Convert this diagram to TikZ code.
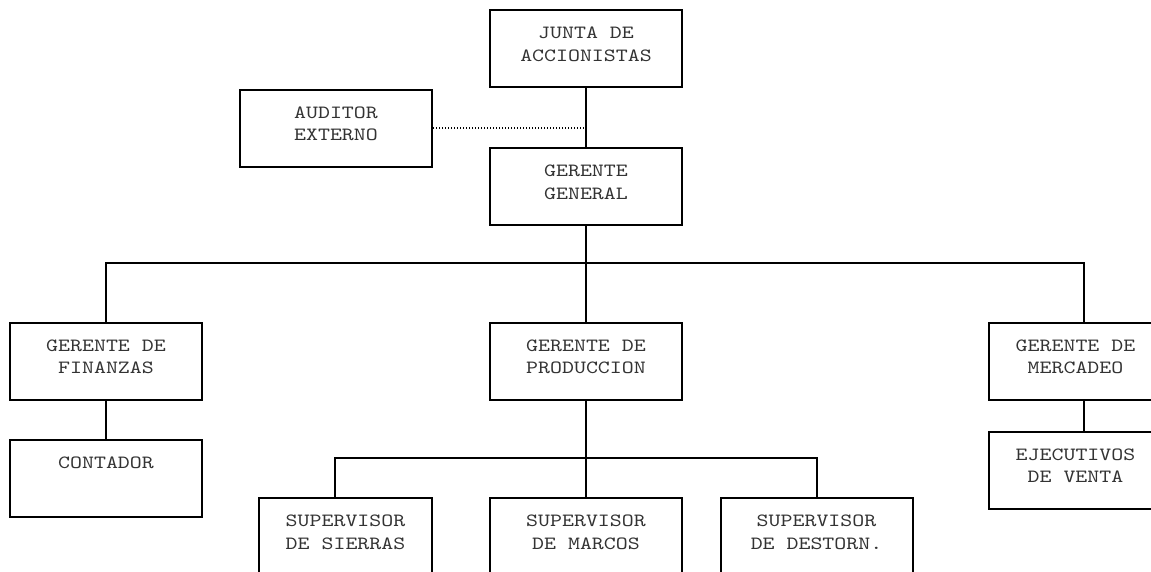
\documentclass[tikz,border=0pt]{standalone}
\usepackage{fontspec}
\newfontfamily\orgfont{lmmono10-regular.otf}[FakeStretch=1.22]
\usetikzlibrary{calc}
\begin{document}
\begin{tikzpicture}[x=0.75pt,y=-0.75pt,
  box/.style={draw, line width=1.5pt, minimum height=57.75pt, inner sep=0pt},
  wide/.style={box, minimum width=144pt},
  narrow/.style={box, minimum width=129.75pt},
  txt/.style={anchor=north, inner sep=0pt, align=center,
    font=\orgfont\fontsize{14}{16.9}\selectfont, text=black!80, yshift=-13.5pt},
  conn/.style={line width=1.5pt},
  aux/.style={line width=1pt, dash pattern=on 1pt off 1.25pt}]
\useasboundingbox (0,0) rectangle (1151,571);
\fill[white] (0,0) rectangle (1151,571);
\clip (0,0) rectangle (1151,571);

% boxes
\node[wide] (junta) at (586,48.5) {};
\node[txt] (junta-t) at (junta.north) {JUNTA DE\\ACCIONISTAS};
\node[wide] (auditor) at (336,128) {};
\node[txt] (auditor-t) at (auditor.north) {AUDITOR\\EXTERNO};
\node[wide] (general) at (586,186.5) {};
\node[txt] (general-t) at (general.north) {GERENTE\\GENERAL};

\node[wide] (finanzas) at (106,361) {};
\node[txt] (finanzas-t) at (finanzas.north) {GERENTE DE\\FINANZAS};
\node[wide] (contador) at (106,478.5) {};
\node[txt] (contador-t) at (contador.north) {CONTADOR};

\node[wide] (produccion) at (586,361) {};
\node[txt] (produccion-t) at (produccion.north) {GERENTE DE\\PRODUCCION};

\node[narrow] (mercadeo) at (1075.5,361) {};
\node[txt] (mercadeo-t) at (mercadeo.north) {GERENTE DE\\MERCADEO};
\node[narrow] (ejecutivos) at (1075.5,470) {};
\node[txt] (ejecutivos-t) at (ejecutivos.north) {EJECUTIVOS\\DE VENTA};

\node[narrow] (sierras) at (345.5,536.5) {};
\node[txt] (sierras-t) at (sierras.north) {SUPERVISOR\\DE SIERRAS};
\node[wide] (marcos) at (586,536.5) {};
\node[txt] (marcos-t) at (marcos.north) {SUPERVISOR\\DE MARCOS};
\node[wide] (destorn) at (816.5,536.5) {};
\node[txt] (destorn-t) at (destorn.north) {SUPERVISOR\\DE DESTORN.};

% connection points that sit off the box centres
\coordinate (mkt) at ($(mercadeo.north west)+(96,0)$);
\coordinate (sie) at ($(sierras.north west)+(77,0)$);
\coordinate (tap) at (junta.south |- auditor.east);

% connectors
\draw[conn] (junta.south) -- (general.north);
\draw[aux] (auditor.east) -- (tap);
\draw[conn] (general.south) -- (produccion.north);
\draw[conn] (finanzas.north) -- ++(0,-59) -| (mkt);
\draw[conn] (finanzas.south) -- (contador.north);
\draw[conn] (mkt |- mercadeo.south) -- (mkt |- ejecutivos.north);
\draw[conn] (produccion.south) -- (marcos.north);
\draw[conn] (sie) -- ++(0,-39) -| (destorn.north);
\end{tikzpicture}
\end{document}
